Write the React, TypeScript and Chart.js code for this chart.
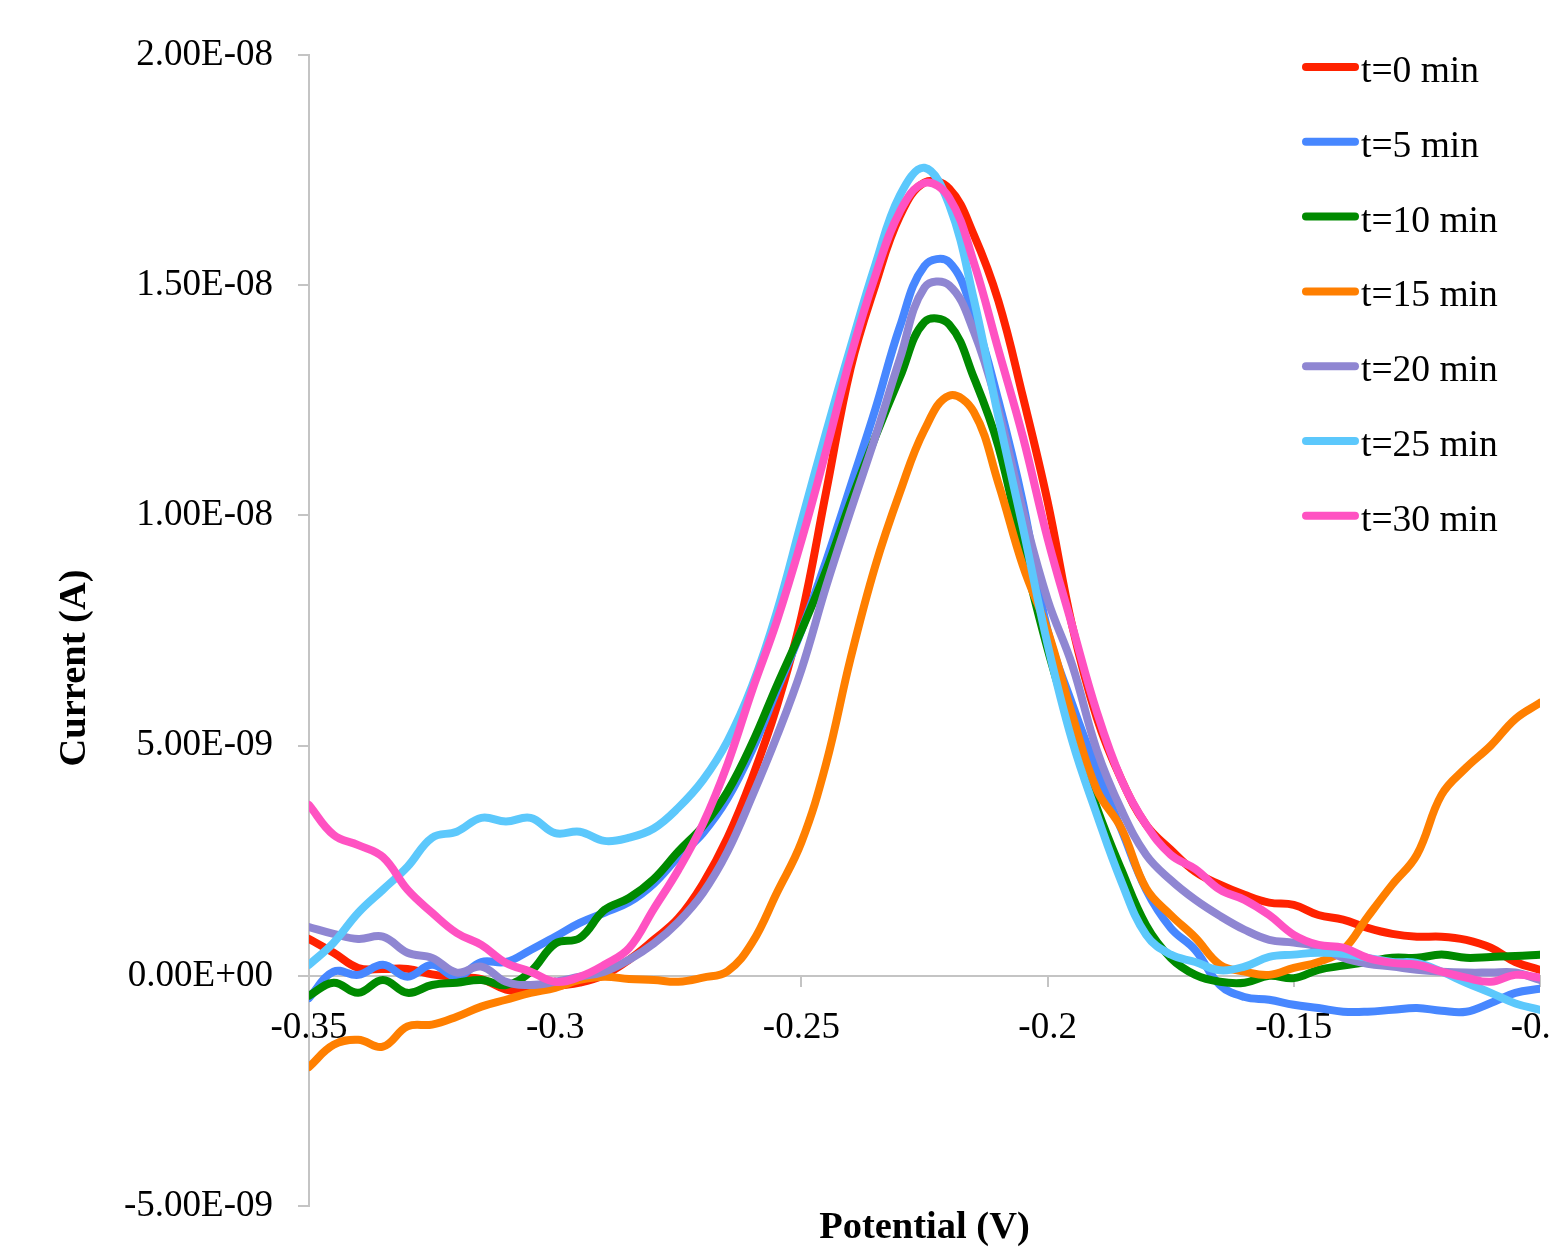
import React, { useEffect, useRef } from 'react';
import { Chart, registerables } from 'chart.js';

Chart.register(...registerables);

// Potential (V)
const potential = [
  -0.35, -0.345, -0.34, -0.335, -0.33, -0.325, -0.32, -0.315, -0.31, -0.305,
  -0.3, -0.295, -0.29, -0.285, -0.28, -0.275, -0.27, -0.265, -0.26, -0.255,
  -0.25, -0.245, -0.24, -0.235, -0.23, -0.225, -0.22, -0.215, -0.21, -0.205,
  -0.2, -0.195, -0.19, -0.185, -0.18, -0.175, -0.17, -0.165, -0.16, -0.155,
  -0.15, -0.145, -0.14, -0.135, -0.13, -0.125, -0.12, -0.115, -0.11, -0.105, -0.1,
];

// Current values in nA (1e-9 A)
const t0 = [
  0.8, 0.5, 0.17, 0.15, 0.15, 0.03, -0.03, -0.07, -0.3, -0.35,
  -0.23, -0.15, 0.02, 0.35, 0.78, 1.25, 2.0, 3.0, 4.3, 5.85,
  7.8, 10.5, 13.2, 15.0, 16.5, 17.23, 17.1, 16.1, 14.66, 12.57,
  10.3, 7.6, 5.6, 4.26, 3.28, 2.74, 2.26, 1.98, 1.76, 1.59,
  1.54, 1.32, 1.22, 1.04, 0.91, 0.85, 0.85, 0.78, 0.61, 0.3, 0.13,
];
const t5 = [
  -0.48, 0.09, 0.02, 0.24, -0.02, 0.24, -0.02, 0.3, 0.3, 0.56,
  0.85, 1.15, 1.37, 1.6, 2.0, 2.58, 3.1, 3.85, 4.9, 6.2,
  7.5, 9.0, 10.64, 12.3, 14.1, 15.42, 15.5, 14.35, 12.5, 10.27,
  7.5, 5.9, 4.47, 3.17, 1.87, 1.04, 0.56, -0.2, -0.46, -0.52,
  -0.63, -0.7, -0.78, -0.78, -0.74, -0.7, -0.76, -0.78, -0.59, -0.37, -0.28,
];
const t10 = [
  -0.43, -0.15, -0.37, -0.09, -0.37, -0.2, -0.15, -0.09, -0.2, 0.09,
  0.7, 0.82, 1.43, 1.69, 2.1, 2.7, 3.25, 4.0, 5.05, 6.3,
  7.5, 8.8, 10.3, 11.7, 13.0, 14.2, 14.15, 13.0, 11.5, 9.2,
  7.1, 5.3, 3.65, 2.3, 1.1, 0.39, 0.02, -0.13, -0.15, 0.0,
  -0.05, 0.13, 0.22, 0.3, 0.39, 0.39, 0.46, 0.39, 0.41, 0.43, 0.46,
];
const t15 = [
  -1.98, -1.5, -1.39, -1.54, -1.1, -1.06, -0.89, -0.67, -0.52, -0.37,
  -0.26, -0.09, -0.02, -0.07, -0.09, -0.13, -0.04, 0.1, 0.72, 1.8,
  2.9, 4.6, 6.9, 8.9, 10.5, 11.86, 12.6, 12.25, 10.7, 8.9,
  7.5, 5.67, 4.04, 3.2, 1.9, 1.32, 0.83, 0.24, 0.09, 0.02,
  0.17, 0.3, 0.56, 1.28, 1.98, 2.63, 3.93, 4.52, 5.0, 5.58, 5.93,
];
const t20 = [
  1.06, 0.91, 0.8, 0.85, 0.5, 0.39, 0.07, 0.2, -0.13, -0.2,
  -0.13, -0.02, 0.09, 0.35, 0.7, 1.17, 1.8, 2.7, 3.9, 5.2,
  6.65, 8.45, 10.1, 11.7, 13.4, 14.95, 15.0, 14.0, 12.3, 10.1,
  8.17, 6.75, 4.9, 3.6, 2.63, 2.08, 1.65, 1.3, 1.0, 0.78,
  0.72, 0.63, 0.39, 0.26, 0.2, 0.13, 0.09, 0.07, 0.07, 0.07, -0.09,
];
const t25 = [
  0.24, 0.72, 1.37, 1.87, 2.37, 3.0, 3.13, 3.43, 3.35, 3.43,
  3.1, 3.13, 2.93, 3.0, 3.2, 3.65, 4.25, 5.1, 6.3, 7.9,
  9.86, 11.8, 13.66, 15.44, 16.95, 17.55, 16.75, 14.7, 12.14, 9.73,
  7.2, 5.1, 3.5, 2.04, 0.89, 0.46, 0.3, 0.12, 0.2, 0.41,
  0.46, 0.5, 0.48, 0.39, 0.3, 0.28, 0.09, -0.15, -0.37, -0.6, -0.74,
];
const t30 = [
  3.71, 3.06, 2.84, 2.58, 1.87, 1.37, 0.93, 0.67, 0.28, 0.09,
  -0.13, -0.02, 0.24, 0.6, 1.45, 2.3, 3.3, 4.6, 6.2, 7.7,
  9.45, 11.4, 13.45, 15.2, 16.6, 17.22, 16.9, 15.5, 13.6, 11.7,
  9.5, 7.6, 5.73, 4.26, 3.28, 2.63, 2.32, 1.87, 1.65, 1.32,
  0.89, 0.67, 0.61, 0.39, 0.28, 0.24, 0.09, -0.04, -0.13, 0.02, -0.04,
];

const seriesLabels = ['t=0 min', 't=5 min', 't=10 min', 't=15 min', 't=20 min', 't=25 min', 't=30 min'];
const seriesValues = [t0, t5, t10, t15, t20, t25, t30];
const seriesColors = ['#FF2200', '#4787FF', '#008A00', '#FF7F00', '#8F86D2', '#5CC8FC', '#FF52C2'];

// Axis ticks
const xTicks = [-0.35, -0.3, -0.25, -0.2, -0.15, -0.1];
const yTicks = [-5, 0, 5, 10, 15, 20]; // nA
const xTitle = 'Potential (V)';
const yTitle = 'Current (A)';

const FONT = "'Liberation Serif', 'Times New Roman', serif";

function formatAmps(vNano: number): string {
  if (Math.abs(vNano) < 1e-12) return '0.00E+00';
  const e = Math.floor(Math.log10(Math.abs(vNano)) + 1e-9);
  const m = vNano / Math.pow(10, e);
  const exp = e - 9;
  return m.toFixed(2) + 'E' + (exp < 0 ? '-' : '+') + String(Math.abs(exp)).padStart(2, '0');
}

const decorPlugin = {
  id: 'decor',
  afterDraw(chart: any) {
    const { ctx, chartArea } = chart;
    ctx.save();
    ctx.fillStyle = '#000';
    ctx.font = `bold 38.5px ${FONT}`;
    ctx.textAlign = 'center';
    ctx.textBaseline = 'alphabetic';
    ctx.fillText(xTitle, (chartArea.left + chartArea.right) / 2, 1238);
    ctx.save();
    ctx.translate(85, 668);
    ctx.rotate(-Math.PI / 2);
    ctx.fillText(yTitle, 0, 0);
    ctx.restore();

    // legend
    const ds = chart.data.datasets;
    ctx.font = `37.5px ${FONT}`;
    ctx.textAlign = 'left';
    for (let i = 0; i < ds.length; i++) {
      const y = 67 + i * 74.8;
      ctx.strokeStyle = ds[i].borderColor;
      ctx.lineWidth = 8;
      ctx.lineCap = 'round';
      ctx.beginPath();
      ctx.moveTo(1306, y);
      ctx.lineTo(1355, y);
      ctx.stroke();
      ctx.fillStyle = '#000';
      ctx.fillText(ds[i].label, 1361, y + 15);
    }
    ctx.restore();
  },
};

export default function App() {
  const ref = useRef<HTMLCanvasElement | null>(null);

  useEffect(() => {
    const canvas = ref.current;
    if (!canvas) return;
    const datasets = seriesValues.map((vals, i) => ({
      label: seriesLabels[i],
      data: vals.map((v, j) => ({ x: potential[j], y: v })),
      borderColor: seriesColors[i],
      backgroundColor: seriesColors[i],
      borderWidth: 8,
      pointRadius: 0,
      tension: 0.4,
      fill: false,
      borderCapStyle: 'round' as const,
      borderJoinStyle: 'round' as const,
      order: seriesValues.length - i,
    }));

    const chart = new Chart(canvas, {
      type: 'line',
      data: { datasets },
      plugins: [decorPlugin],
      options: {
        responsive: false,
        animation: false,
        devicePixelRatio: 1,
        layout: { padding: { left: 0, top: 55, right: 11, bottom: 53 } },
        plugins: { legend: { display: false }, tooltip: { enabled: false }, title: { display: false } },
        scales: {
          x: {
            type: 'linear',
            position: { y: 0 } as any,
            min: -0.35,
            max: -0.1,
            afterBuildTicks: (scale: any) => {
              scale.ticks = xTicks.map((v) => ({ value: v }));
            },
            afterFit: (scale: any) => {
              scale.paddingLeft = 0;
              scale.paddingRight = 0;
              scale.paddingTop = 0;
              scale.paddingBottom = 0;
            },
            ticks: {
              color: '#000',
              font: { family: FONT, size: 37 },
              padding: 20,
              maxRotation: 0,
              autoSkip: false,
              callback: (v: any) => String(Math.round(Number(v) * 100) / 100),
            },
            grid: { drawOnChartArea: false, drawTicks: true, tickLength: 10, color: '#C4C4C4', lineWidth: 2 },
            border: { display: true, color: '#C4C4C4', width: 2 },
            title: { display: false },
          },
          y: {
            type: 'linear',
            position: 'left',
            min: -5,
            max: 20,
            afterBuildTicks: (scale: any) => {
              scale.ticks = yTicks.map((v) => ({ value: v }));
            },
            afterFit: (scale: any) => {
              scale.width = 309;
              scale.paddingTop = 0;
              scale.paddingBottom = 0;
              scale.paddingLeft = 0;
              scale.paddingRight = 0;
            },
            ticks: {
              color: '#000',
              font: { family: FONT, size: 37 },
              padding: 25,
              autoSkip: false,
              callback: (v: any) => formatAmps(Number(v)),
            },
            grid: { drawOnChartArea: false, drawTicks: true, tickLength: 11, color: '#C4C4C4', lineWidth: 2 },
            border: { display: true, color: '#C4C4C4', width: 2 },
            title: { display: false },
          },
        },
      },
    });
    return () => chart.destroy();
  }, []);

  return (
    <div style={{ position: 'fixed', left: 0, top: 0, width: 1551, height: 1259, overflow: 'hidden', background: '#fff' }}>
      <canvas ref={ref} width={1551} height={1259} style={{ display: 'block', width: 1551, height: 1259 }} />
    </div>
  );
}
